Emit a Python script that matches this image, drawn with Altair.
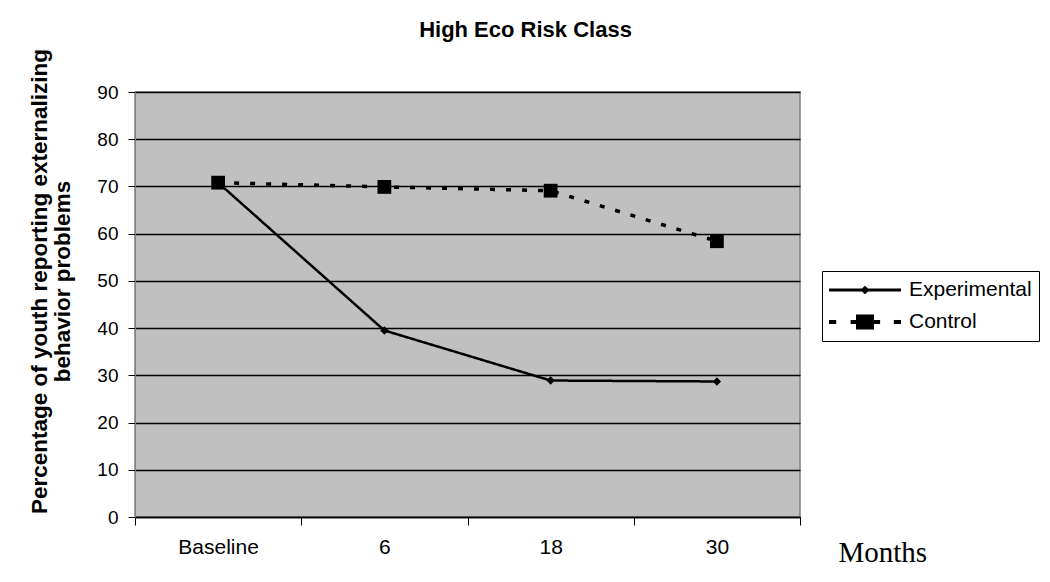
import altair as alt
import pandas as pd

periods = ["Baseline", "6", "18", "30"]
experimental = [70.8, 39.5, 28.9, 28.7]
control = [70.8, 69.9, 69.1, 58.4]
series_names = ["Experimental", "Control"]

rows = []
for p, e, c in zip(periods, experimental, control):
    rows.append({"period": p, "value": e, "series": "Experimental"})
    rows.append({"period": p, "value": c, "series": "Control"})
df = pd.DataFrame(rows)

FONT = "Liberation Sans"

# legend glyphs: line with marker (unit coords, -1..1 spans symbol width)
exp_glyph = ("M-1,-0.04H1V0.04H-1Z "
             "M0,-0.12L0.13,0L0,0.12L-0.13,0Z")
ctl_glyph = ("M-1,-0.055H-0.8V0.055H-1Z "
             "M-0.4,-0.055H0.42V0.055H-0.4Z "
             "M-0.25,-0.21H0.25V0.21H-0.25Z "
             "M0.8,-0.055H1V0.055H0.8Z")

x_enc = alt.X(
    "period:N", sort=periods, bandPosition=0.5,
    scale=alt.Scale(type="band", paddingInner=0, paddingOuter=0),
    axis=alt.Axis(
        title="Months", titleFont="Liberation Serif", titleFontSize=29,
        titleFontWeight="normal", titleColor="black",
        titleX=703, titleY=35, titleAlign="left", titleBaseline="middle",
        titleAnchor="start",
        labelFont=FONT, labelFontSize=21, labelColor="black", labelAngle=0,
        labelPadding=11, tickBand="extent", tickSize=8, tickColor="black",
        domainColor="black", domainWidth=1.5, grid=False,
    ),
)
y_enc = alt.Y(
    "value:Q",
    scale=alt.Scale(domain=[0, 90], nice=False),
    axis=alt.Axis(
        values=list(range(0, 91, 10)),
        title=["Percentage of youth reporting externalizing", "behavior problems"],
        titleFont=FONT, titleFontSize=22.5, titleFontWeight="bold", titleColor="black",
        titleLineHeight=23, titlePadding=22, titleY=189, titleAlign="center",
        labelFont=FONT, labelFontSize=19, labelColor="black", labelPadding=10,
        tickSize=7, tickColor="black", domainColor="#808080",
        grid=True, gridColor="black", gridWidth=1.5,
    ),
)

lines = alt.Chart(df).mark_line(color="black").encode(
    x=x_enc, y=y_enc,
    strokeDash=alt.StrokeDash("series:N", scale=alt.Scale(domain=series_names, range=[[1, 0], [5, 11]]), legend=None),
    strokeWidth=alt.StrokeWidth("series:N", scale=alt.Scale(domain=series_names, range=[2.5, 3.5]), legend=None),
)

points = alt.Chart(df).mark_point(filled=True, color="black", opacity=1).encode(
    x=x_enc, y=y_enc,
    shape=alt.Shape("series:N", scale=alt.Scale(domain=series_names, range=["diamond", "square"]), legend=None),
    size=alt.Size("series:N", scale=alt.Scale(domain=series_names, range=[70, 190]), legend=None),
)

legend_layer = alt.Chart(df).mark_point(filled=True, color="black", opacity=0).encode(
    x=x_enc, y=y_enc,
    shape=alt.Shape(
        "series:N",
        scale=alt.Scale(domain=series_names, range=[exp_glyph, ctl_glyph]),
        legend=alt.Legend(
            title=None, orient="none", legendX=687, legendY=179,
            symbolSize=5184, clipHeight=24, rowPadding=8,
            symbolFillColor="black", symbolStrokeWidth=0, symbolOpacity=1,
            labelFont=FONT, labelFontSize=21, labelColor="black", labelOffset=8,
            strokeColor="black", padding=7, fillColor="white",
        ),
    ),
)

chart = alt.layer(lines, points, legend_layer).resolve_scale(
    shape="independent", size="independent"
).properties(
    width=665, height=425,
    background="white",
    title=alt.Title("High Eco Risk Class", font=FONT, fontSize=22, fontWeight="bold",
                    color="black", anchor="middle", dx=58, offset=6),
    autosize=alt.AutoSizeParams(type="none"),
    padding={"left": 127, "top": 84, "right": 242, "bottom": 57},
).configure_view(
    fill="#C0C0C0", stroke="#808080", strokeWidth=1.5
)

chart.save("out.html", embed_options={"renderer": "svg", "actions": False})
